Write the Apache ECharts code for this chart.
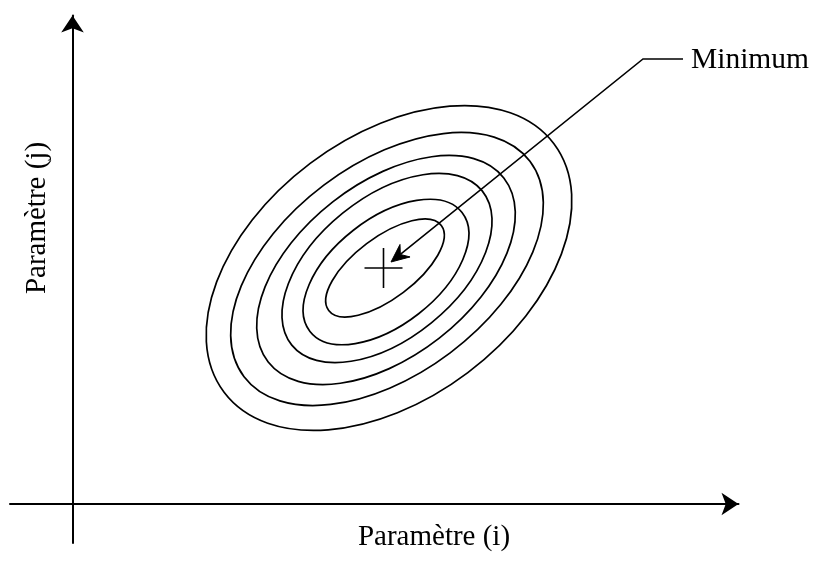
<!DOCTYPE html>
<html>
<head>
<meta charset="utf-8">
<script src="https://cdn.jsdelivr.net/npm/echarts@6/dist/echarts.min.js"></script>
<style>
  html, body { margin: 0; padding: 0; background: #ffffff; }
  #chart { width: 814px; height: 561px; }
</style>
</head>
<body>
<div id="chart"></div>
<script>
// ---- Text ----
const xAxisTitle = 'Paramètre (i)';
const yAxisTitle = 'Paramètre (j)';
const minimumLabel = 'Minimum';

// ---- Contour lines (inner to outer), in axis units ----
const contourCenterX = [6.25, 6.27, 6.29, 6.27, 6.29, 6.33];
const contourCenterY = [4.72, 4.64, 4.72, 4.68, 4.70, 4.72];
const contourSemiMajor = [1.41, 1.93, 2.45, 2.99, 3.58, 4.13];
const contourSemiMinor = [0.61, 1.06, 1.41, 1.73, 2.10, 2.62];
const contourAngleDeg = [37, 38, 39, 38, 37, 37];

// ---- Minimum point and its annotation (label end, elbow, arrow tip) ----
const minimumPoint = [6.22, 4.72];
const annotationLabelEnd = [12.21, 8.90];
const annotationElbow = [11.41, 8.90];
const annotationTip = [6.37, 4.84];

// ---- Axis extents ----
const xRange = [-1.25, 13.32];
const yRange = [-0.78, 9.77];

const contourData = contourCenterX.map((cx, i) => [
  cx, contourCenterY[i], contourSemiMajor[i], contourSemiMinor[i], contourAngleDeg[i]
]);

const chart = echarts.init(document.getElementById('chart'), null, { renderer: 'canvas' });
const FONT = '"Liberation Serif", "Times New Roman", serif';

const axisCommon = {
  type: 'value',
  axisLine: {
    show: true,
    onZero: true,
    symbol: ['none', 'arrow'],
    symbolSize: [17, 17],
    lineStyle: { color: '#000', width: 2 }
  },
  axisTick: { show: false },
  axisLabel: { show: false },
  splitLine: { show: false }
};

chart.setOption({
  backgroundColor: '#ffffff',
  animation: false,
  grid: { left: 10, right: 75.5, top: 15.5, bottom: 18, containLabel: false },
  xAxis: Object.assign({}, axisCommon, { min: xRange[0], max: xRange[1] }),
  yAxis: Object.assign({}, axisCommon, { min: yRange[0], max: yRange[1] }),
  graphic: [
    {
      type: 'text', x: 434, y: 537,
      style: { text: xAxisTitle, font: '29px ' + FONT, fill: '#000', align: 'center', verticalAlign: 'middle' }
    },
    {
      type: 'text', x: 37, y: 218, rotation: Math.PI / 2,
      style: { text: yAxisTitle, font: '29px ' + FONT, fill: '#000', align: 'center', verticalAlign: 'middle' }
    }
  ],
  series: [
    {
      type: 'custom',
      name: 'contours',
      clip: false,
      silent: true,
      data: contourData,
      renderItem: function (params, api) {
        const c = api.coord([api.value(0), api.value(1)]);
        const s = api.size([api.value(2), api.value(3)]);
        return {
          type: 'ellipse',
          x: c[0], y: c[1],
          rotation: api.value(4) * Math.PI / 180,
          shape: { cx: 0, cy: 0, rx: s[0], ry: s[1] },
          style: { fill: 'none', stroke: '#000', lineWidth: 1.7 }
        };
      }
    },
    {
      type: 'custom',
      name: 'minimum',
      clip: false,
      silent: true,
      data: [minimumPoint],
      renderItem: function (params, api) {
        const c = api.coord([api.value(0), api.value(1)]);
        return {
          type: 'group',
          children: [
            { type: 'line', shape: { x1: c[0] - 19, y1: c[1], x2: c[0] + 19, y2: c[1] }, style: { stroke: '#000', lineWidth: 1.6 } },
            { type: 'line', shape: { x1: c[0], y1: c[1] - 20, x2: c[0], y2: c[1] + 20 }, style: { stroke: '#000', lineWidth: 1.6 } }
          ]
        };
      }
    },
    {
      type: 'custom',
      name: 'annotation',
      clip: false,
      silent: true,
      data: [annotationLabelEnd.concat(annotationElbow, annotationTip)],
      renderItem: function (params, api) {
        const p0 = api.coord([api.value(0), api.value(1)]);
        const p1 = api.coord([api.value(2), api.value(3)]);
        const p2 = api.coord([api.value(4), api.value(5)]);
        const dx = p1[0] - p2[0], dy = p1[1] - p2[1];
        const L = Math.hypot(dx, dy);
        const ux = dx / L, uy = dy / L, nx = -uy, ny = ux;
        const notch = [p2[0] + ux * 12, p2[1] + uy * 12];
        const head = [
          [p2[0], p2[1]],
          [p2[0] + ux * 18 + nx * 8, p2[1] + uy * 18 + ny * 8],
          notch,
          [p2[0] + ux * 18 - nx * 8, p2[1] + uy * 18 - ny * 8]
        ];
        return {
          type: 'group',
          children: [
            { type: 'polyline', shape: { points: [p0, p1, notch] }, style: { stroke: '#000', lineWidth: 1.6, fill: 'none' } },
            { type: 'polygon', shape: { points: head }, style: { fill: '#000', stroke: '#000', lineWidth: 1 } },
            {
              type: 'text', x: p0[0] + 8, y: p0[1] + 1,
              style: { text: minimumLabel, font: '29.5px ' + FONT, fill: '#000', align: 'left', verticalAlign: 'middle' }
            }
          ]
        };
      }
    }
  ]
});
</script>
</body>
</html>
